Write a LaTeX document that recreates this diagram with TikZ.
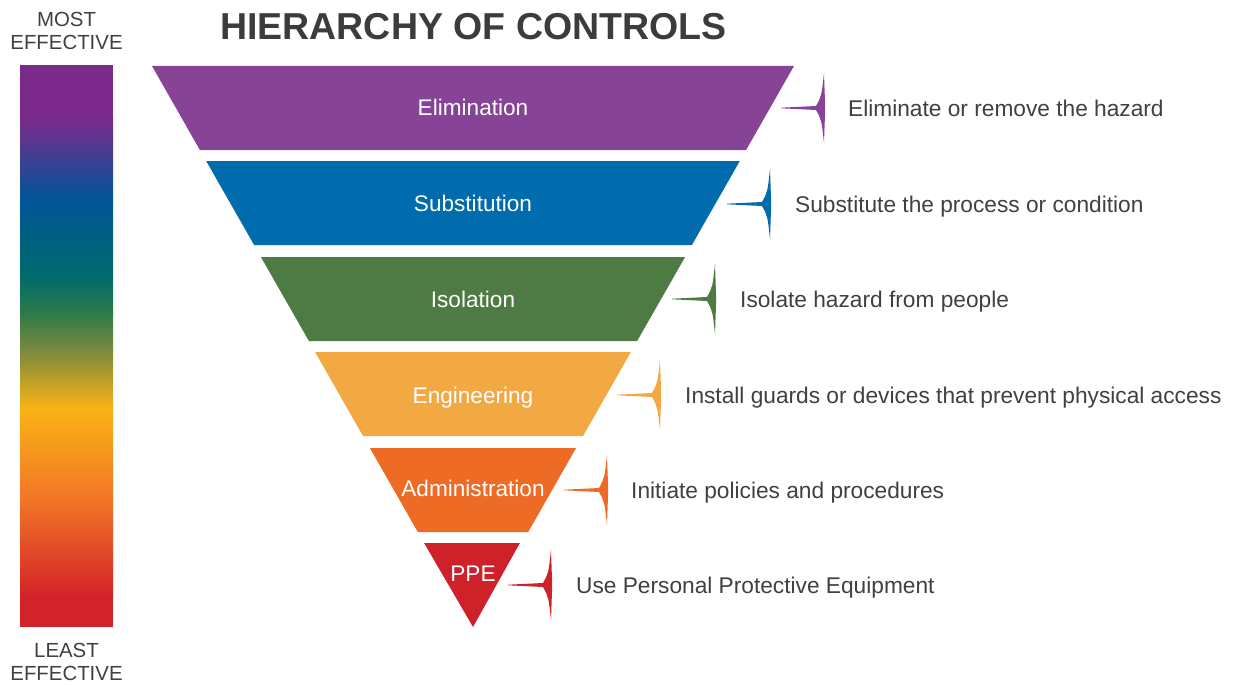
\documentclass[tikz,border=0pt]{standalone}
\usepackage{fontspec}
\setmainfont{Liberation Sans}
\usetikzlibrary{calc}

\definecolor{elimC}{RGB}{135,68,151}
\definecolor{substC}{RGB}{0,107,173}
\definecolor{isolC}{RGB}{78,122,67}
\definecolor{engC}{RGB}{242,169,68}
\definecolor{adminC}{RGB}{238,107,37}
\definecolor{ppeC}{RGB}{206,33,41}
\definecolor{textgray}{RGB}{64,64,64}
\definecolor{titlegray}{RGB}{60,60,60}

% scale bar colours
\definecolor{barPurple}{RGB}{123,42,140}
\definecolor{barBlue}{RGB}{0,85,152}
\definecolor{barTeal}{RGB}{0,107,106}
\definecolor{barGreen}{RGB}{44,122,74}
\definecolor{barOlive}{RGB}{122,138,62}
\definecolor{barYellow}{RGB}{249,179,20}
\definecolor{barOrange}{RGB}{242,117,39}
\definecolor{barRed}{RGB}{211,34,41}

\begin{document}
\begin{tikzpicture}[x=1pt,y=-1pt,
	bandlabel/.style={anchor=base, inner sep=0pt, white, font=\fontsize{22.6}{27}\selectfont},
	desc/.style={anchor=base west, inner sep=0pt, textgray, font=\fontsize{22.7}{27}\selectfont},
	scalelabel/.style={anchor=base, inner sep=0pt, align=center, textgray, font=\fontsize{20.4}{23}\selectfont},
	pointer/.pic={
		\fill[#1] (0,-35) -- (1.2,0) -- (0,35)
			.. controls (-2.5,12) .. (-8,2) -- (-43,0.3) -- (-43,-0.3) -- (-8,-2)
			.. controls (-2.5,-12) .. cycle;
	}]

\pgfmathsetmacro{\barL}{20}
\pgfmathsetmacro{\barR}{113}
\pgfmathsetmacro{\midx}{473}

\useasboundingbox (0,0) rectangle (1235,685);

% TITLE
\node (title) [anchor=base west, inner sep=0pt, titlegray,
			font=\bfseries\fontsize{37.5}{40}\selectfont]  at (220,40)   {HIERARCHY OF CONTROLS};

% SCALE BAR
\node (most) [scalelabel]  at (66.5,50)   {MOST\\EFFECTIVE};
\node (least) [scalelabel]  at (66.5,680)   {LEAST\\EFFECTIVE};

\fill[barPurple] (\barL,65) rectangle (\barR,118);
\shade[top color=barPurple, bottom color=barBlue] (\barL,117.5) rectangle (\barR,200.5);
\shade[top color=barBlue, bottom color=barTeal] (\barL,200) rectangle (\barR,277.5);
\shade[top color=barTeal, bottom color=barGreen] (\barL,277) rectangle (\barR,312.5);
\shade[top color=barGreen, bottom color=barOlive] (\barL,312) rectangle (\barR,350.5);
\shade[top color=barOlive, bottom color=barYellow] (\barL,350) rectangle (\barR,408.5);
\shade[top color=barYellow, bottom color=barOrange] (\barL,408) rectangle (\barR,500.5);
\shade[top color=barOrange, bottom color=barRed] (\barL,500) rectangle (\barR,597.5);
\fill[barRed] (\barL,597) rectangle (\barR,627);

% BANDS
%elimination
\fill[elimC] (152,66) -- (794,66) -- (746.1,150) -- (199.9,150) -- cycle;
\node (elimination) [bandlabel]  at (\midx,115)   {Elimination};
\pic at (824,108) {pointer=elimC};
\node (elimdesc) [desc]  at (848,116)   {Eliminate or remove the hazard};

%substitution
\fill[substC] (206.2,161) -- (739.8,161) -- (691.9,245) -- (254.1,245) -- cycle;
\node (substitution) [bandlabel]  at (\midx,211)   {Substitution};
\pic at (770,204) {pointer=substC};
\node (substdesc) [desc]  at (795,212)   {Substitute the process or condition};

%isolation
\fill[isolC] (260.9,257) -- (685.1,257) -- (637.1,341) -- (308.9,341) -- cycle;
\node (isolation) [bandlabel]  at (\midx,307)   {Isolation};
\pic at (715,299) {pointer=isolC};
\node (isoldesc) [desc]  at (740,307)   {Isolate hazard from people};

%engineering
\fill[engC] (315.1,352) -- (630.9,352) -- (583.0,436) -- (363.0,436) -- cycle;
\node (engineering) [bandlabel]  at (\midx,403)   {Engineering};
\pic at (660,395) {pointer=engC};
\node (engdesc) [desc]  at (685,403)   {Install guards or devices that prevent physical access};

%administration
\fill[adminC] (369.9,448) -- (576.1,448) -- (528.2,532) -- (417.8,532) -- cycle;
\node (administration) [bandlabel]  at (\midx,496)   {Administration};
\pic at (607,490) {pointer=adminC};
\node (admindesc) [desc]  at (631,498)   {Initiate policies and procedures};

%ppe
\fill[ppeC] (424.1,543) -- (519.9,543) -- (\midx,627) -- cycle;
\node (ppe) [bandlabel]  at (\midx,581)   {PPE};
\pic at (551,585) {pointer=ppeC};
\node (ppedesc) [desc]  at (576,593)   {Use Personal Protective Equipment};

\end{tikzpicture}
\end{document}
